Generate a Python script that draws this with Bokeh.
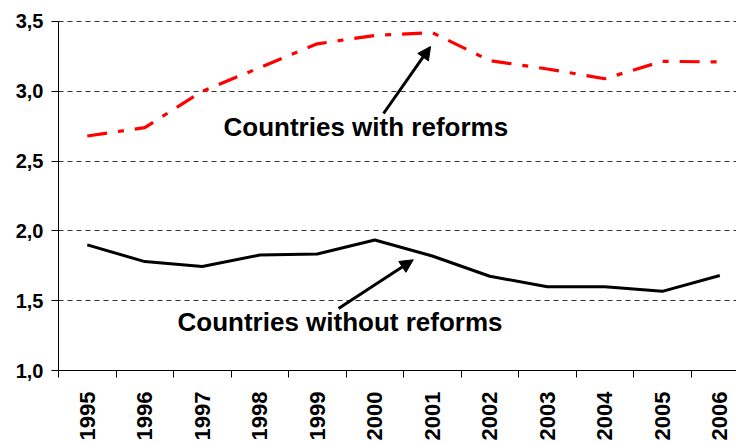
import math
from bokeh.plotting import figure
from bokeh.models import FixedTicker, Arrow, NormalHead, Range1d, ColumnDataSource
from bokeh.core.properties import value
from bokeh.embed import file_html
from bokeh.resources import INLINE

# ---- data ----
years = ["1995", "1996", "1997", "1998", "1999", "2000",
         "2001", "2002", "2003", "2004", "2005", "2006"]
with_reforms = [2.68, 2.74, 3.00, 3.17, 3.34, 3.40, 3.42, 3.22, 3.16, 3.09, 3.215, 3.21]
without_reforms = [1.90, 1.78, 1.745, 1.827, 1.835, 1.935, 1.82, 1.675, 1.60, 1.60, 1.567, 1.68]
y_ticks = [1.0, 1.5, 2.0, 2.5, 3.0, 3.5]
y_tick_labels = ["1,0", "1,5", "2,0", "2,5", "3,0", "3,5"]
label_with = "Countries with reforms"
label_without = "Countries without reforms"

# ---- positions ----
centers = [i + 0.5 for i in range(len(years))]
boundaries = [float(i) for i in range(len(years) + 1)]

FONT = "Liberation Sans"

p = figure(width=736, height=443, title=None,
           x_range=Range1d(0, 11.79), y_range=Range1d(1.0, 3.5143),
           output_backend="svg", toolbar_location=None,
           min_border_left=58, min_border_right=0,
           min_border_top=19, min_border_bottom=73)
p.outline_line_color = None
p.background_fill_color = "white"
p.border_fill_color = "white"

# grid
p.xgrid.grid_line_color = None
p.ygrid.ticker = FixedTicker(ticks=y_ticks[1:])
p.ygrid.grid_line_color = "#333333"
p.ygrid.grid_line_dash = "5 4"
p.ygrid.grid_line_width = 1

# x axis: labels at category centres, ticks at category boundaries
p.xaxis.ticker = FixedTicker(ticks=centers, minor_ticks=boundaries)
p.xaxis.major_label_overrides = {c: y for c, y in zip(centers, years)}
p.xaxis.major_tick_line_color = None
p.xaxis.major_tick_out = 0
p.xaxis.major_tick_in = 0
p.xaxis.minor_tick_out = 7
p.xaxis.minor_tick_in = 0
p.xaxis.minor_tick_line_color = "black"
p.xaxis.minor_tick_line_width = 1
p.xaxis.axis_line_color = "black"
p.xaxis.axis_line_width = 1
p.xaxis.major_label_orientation = math.pi / 2
p.xaxis.major_label_standoff = 14
p.xaxis.major_label_text_font = FONT
p.xaxis.major_label_text_font_style = "bold"
p.xaxis.major_label_text_font_size = "22px"
p.xaxis.major_label_text_color = "black"

# y axis
p.yaxis.ticker = FixedTicker(ticks=y_ticks)
p.yaxis.major_label_overrides = {t: l for t, l in zip(y_ticks, y_tick_labels)}
p.yaxis.bounds = (1.0, 3.5)
p.yaxis.major_tick_out = 7
p.yaxis.major_tick_in = 0
p.yaxis.minor_tick_line_color = None
p.yaxis.major_tick_line_color = "black"
p.yaxis.axis_line_color = "black"
p.yaxis.major_label_standoff = 8
p.yaxis.major_label_text_font = FONT
p.yaxis.major_label_text_font_style = "bold"
p.yaxis.major_label_text_font_size = "20px"
p.yaxis.major_label_text_color = "black"

src = ColumnDataSource(dict(x=centers, w=with_reforms, wo=without_reforms))

p.line("x", "w", source=src, line_color="#ff0000", line_width=3.2,
       line_dash="20 11 6 11", line_join="round")
p.line("x", "wo", source=src, line_color="black", line_width=3,
       line_join="round")

# annotations
txt = ColumnDataSource(dict(x=[2.87, 2.07], y=[2.741, 1.344],
                            t=[label_with, label_without]))
p.text("x", "y", text="t", source=txt, text_font=value(FONT),
       text_font_style="bold", text_font_size="26px", text_color="black",
       text_align="left", text_baseline="alphabetic")

arrow_with = dict(x_start=5.652, y_start=2.841, x_end=6.470, y_end=3.321)
arrow_without = dict(x_start=4.870, y_start=1.444, x_end=6.169, y_end=1.793)
for a in (arrow_with, arrow_without):
    p.add_layout(Arrow(end=NormalHead(size=13, fill_color="black",
                                      line_color="black"),
                       line_color="black", line_width=3, **a))

open("out.html", "w").write(file_html(p, INLINE))
